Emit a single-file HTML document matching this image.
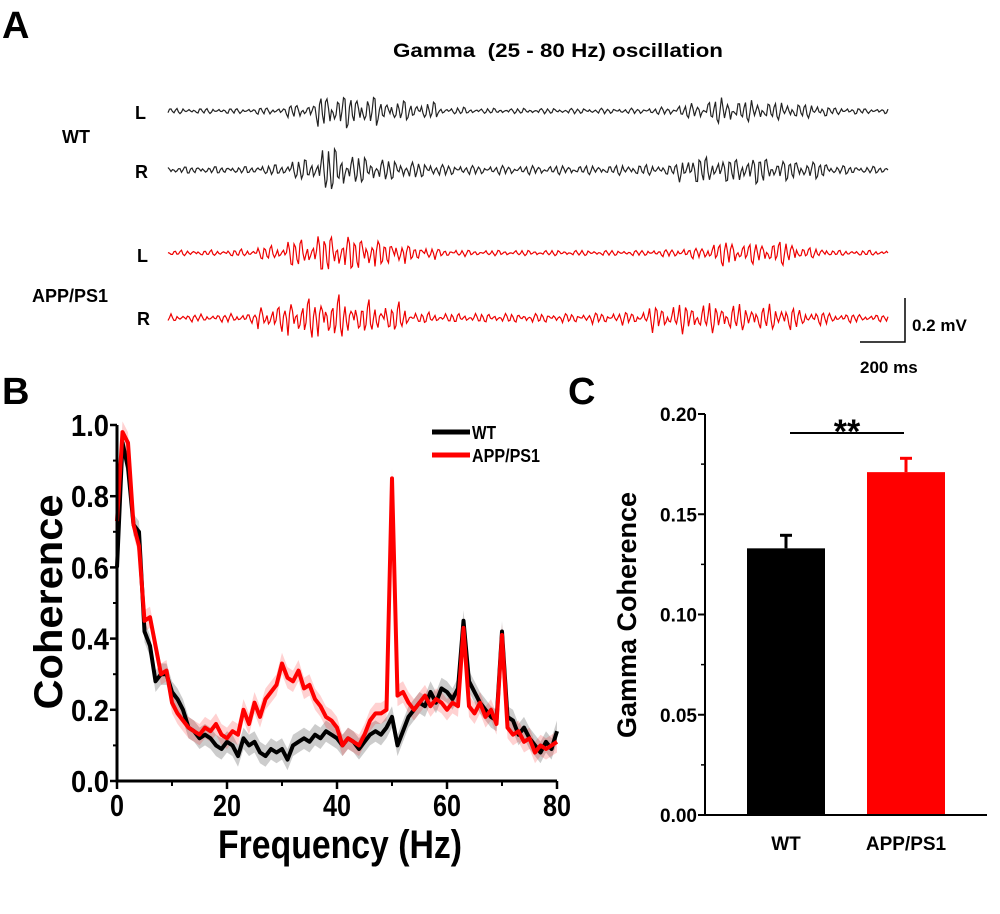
<!DOCTYPE html>
<html><head><meta charset="utf-8">
<style>
html,body{margin:0;padding:0;background:#fff;}
svg{display:block;font-family:"Liberation Sans",Arial,sans-serif;}
.b{font-weight:bold;}
</style></head>
<body>
<svg id="fig" width="1000" height="914" viewBox="0 0 1000 914" xmlns="http://www.w3.org/2000/svg">
<text x="2" y="38" font-size="38" class="b">A</text>
<text x="393" y="57" font-size="19" class="b" textLength="330" lengthAdjust="spacingAndGlyphs" xml:space="preserve">Gamma  (25 - 80 Hz) oscillation</text>
<text x="135" y="119" font-size="18" class="b">L</text>
<text x="62" y="143" font-size="18" class="b">WT</text>
<text x="135" y="178" font-size="18" class="b">R</text>
<text x="137" y="262" font-size="18" class="b">L</text>
<text x="32" y="302" font-size="18" class="b">APP/PS1</text>
<text x="137" y="325" font-size="18" class="b">R</text>
<g id="traces"></g>
<path d="M905,298 V342 H860" fill="none" stroke="#000" stroke-width="1.5"/>
<text x="912" y="331" font-size="17" class="b">0.2 mV</text>
<text x="860" y="373" font-size="17" class="b">200 ms</text>

<text x="2" y="404" font-size="38" class="b">B</text>
<g id="chartB"></g>
<text transform="translate(62,602) rotate(-90)" font-size="40" class="b" text-anchor="middle" textLength="215" lengthAdjust="spacingAndGlyphs">Coherence</text>
<text x="218" y="858" font-size="40" class="b" textLength="244" lengthAdjust="spacingAndGlyphs">Frequency (Hz)</text>
<line x1="432" y1="432" x2="470" y2="432" stroke="#000" stroke-width="5"/>
<text x="472" y="439" font-size="18" class="b" textLength="24" lengthAdjust="spacingAndGlyphs">WT</text>
<line x1="432" y1="455" x2="470" y2="455" stroke="#f00" stroke-width="5"/>
<text x="472" y="462" font-size="18" class="b" textLength="68" lengthAdjust="spacingAndGlyphs">APP/PS1</text>

<text x="568" y="404" font-size="38" class="b">C</text>
<g id="chartC"></g>
<text transform="translate(636,615) rotate(-90)" font-size="27" class="b" text-anchor="middle">Gamma Coherence</text>
</svg>
<script>
// ---------- Panel A trace envelopes (amplitude px per 30px segment) ----------
const wtLEnv  = [3,3,3,4,8,20,18,12,10,4,3,3,3,3,3,3,4,8,14,12,10,8,4,3];
const wtREnv  = [4,4,4,6,12,26,16,12,9,6,5,5,5,5,5,6,6,16,14,16,12,10,5,4];
const appLEnv = [3,3,4,8,16,22,20,14,8,4,3,3,3,3,3,3,4,6,14,12,14,6,3,3];
const appREnv = [4,4,5,14,22,24,18,16,6,5,5,5,5,5,6,7,14,16,16,14,14,8,5,4];

// ---------- Panel B data ----------
const freqs = [];
for (let f = 0; f <= 80; f++) freqs.push(f);
const wtCoh = [0.60,0.95,0.88,0.72,0.70,0.42,0.38,0.28,0.30,0.30,0.25,0.23,0.20,0.15,0.14,0.12,0.13,0.12,0.10,0.09,0.11,0.10,0.07,0.12,0.10,0.11,0.08,0.07,0.09,0.08,0.09,0.06,0.10,0.11,0.12,0.11,0.13,0.12,0.14,0.13,0.12,0.10,0.12,0.11,0.09,0.11,0.13,0.14,0.13,0.15,0.18,0.10,0.14,0.18,0.20,0.22,0.21,0.25,0.22,0.26,0.25,0.23,0.26,0.45,0.28,0.25,0.22,0.20,0.18,0.17,0.42,0.18,0.17,0.13,0.15,0.12,0.10,0.08,0.11,0.09,0.14];
const appCoh = [0.73,0.98,0.95,0.72,0.66,0.45,0.46,0.38,0.30,0.31,0.22,0.19,0.17,0.15,0.14,0.13,0.15,0.14,0.16,0.13,0.12,0.14,0.13,0.20,0.16,0.22,0.18,0.23,0.25,0.27,0.33,0.29,0.28,0.31,0.26,0.27,0.23,0.21,0.18,0.17,0.15,0.10,0.12,0.11,0.10,0.13,0.17,0.19,0.19,0.20,0.85,0.24,0.25,0.22,0.20,0.22,0.24,0.21,0.23,0.22,0.20,0.22,0.21,0.43,0.21,0.19,0.22,0.18,0.20,0.16,0.41,0.15,0.13,0.14,0.11,0.12,0.08,0.10,0.09,0.10,0.11];
const semB = 0.03;
const xTicksB = [0,20,40,60,80];
const yTicksB = [0.0,0.2,0.4,0.6,0.8,1.0];
const yTickLabelsB = ["0.0","0.2","0.4","0.6","0.8","1.0"];

// ---------- Panel C data ----------
const groups = ["WT","APP/PS1"];
const means = [0.133,0.171];
const sems = [0.0065,0.0069];
const yTicksC = [0,0.05,0.10,0.15,0.20];
const yTickLabelsC = ["0.00","0.05","0.10","0.15","0.20"];
const sigLabel = "**";

const NS = "http://www.w3.org/2000/svg";
function mk(tag, attrs, parent){const e=document.createElementNS(NS,tag);for(const k in attrs)e.setAttribute(k,attrs[k]);parent.appendChild(e);return e;}

// ---------- Panel A ----------
const traces = document.getElementById('traces');
function drawTrace(env, y0, color, seed, name){
  let d = "";
  for (let x = 168; x <= 888; x += 1.5) {
    const s = Math.min(env.length-1, Math.floor((x-168)/30));
    const amp = env[s];
    const t = x + seed;
    const v = Math.sin(t*1.05)*0.55 + Math.sin(t*0.83+seed)*0.3 + Math.sin(t*0.41+2*seed)*0.2 + Math.sin(t*1.9)*0.12;
    d += (d ? "L" : "M") + x.toFixed(1) + "," + (y0 + amp*v).toFixed(1);
  }
  const p = mk('path', {d:d, fill:'none', stroke:color, 'stroke-width':1.2}, traces);
  
  
}
drawTrace(wtLEnv, 111, '#222', 1.3, 'wt-left-trace');
drawTrace(wtREnv, 170, '#222', 4.7, 'wt-right-trace');
drawTrace(appLEnv, 253, '#e00', 2.9, 'app-left-trace');
drawTrace(appREnv, 318, '#e00', 7.1, 'app-right-trace');

// ---------- Panel B ----------
const gB = document.getElementById('chartB');
const xB = f => 117 + f*(557-117)/80;
const yB = v => 781 - v*(781-425);
function band(arr, fill, name){
  let d = "";
  freqs.forEach((f,i)=>{ d += (i?"L":"M") + xB(f).toFixed(1) + "," + yB(arr[i]+semB).toFixed(1); });
  for (let i=freqs.length-1;i>=0;i--) d += "L" + xB(freqs[i]).toFixed(1) + "," + yB(Math.max(0,arr[i]-semB)).toFixed(1);
  const p = mk('path',{d:d+"Z", fill:fill}, gB);
  
  
}
function line(arr, color, name){
  let d = "";
  freqs.forEach((f,i)=>{ d += (i?"L":"M") + xB(f).toFixed(1) + "," + yB(arr[i]).toFixed(1); });
  const p = mk('path',{d:d, fill:'none', stroke:color, 'stroke-width':4, 'stroke-linejoin':'round'}, gB);
  
  
}
band(wtCoh, 'rgba(0,0,0,0.2)', 'wt-sem-band');
band(appCoh, 'rgba(255,0,0,0.18)', 'app-sem-band');
line(wtCoh, '#000', 'wt-coherence-line');
line(appCoh, '#f00', 'app-coherence-line');
const axB = mk('path',{d:`M${xB(0)},${yB(1)} V${yB(0)} H${xB(80)}`, fill:'none', stroke:'#000', 'stroke-width':3}, gB);


yTicksB.forEach((v,i)=>{
  mk('line',{x1:xB(0)-7,x2:xB(0),y1:yB(v),y2:yB(v),stroke:'#000','stroke-width':2.5}, gB);
  if (i<yTicksB.length-1) mk('line',{x1:xB(0)-4,x2:xB(0),y1:yB(v+0.1),y2:yB(v+0.1),stroke:'#000','stroke-width':2}, gB);
  const t = mk('text',{x:xB(0)-46,y:yB(v)+11,'font-size':31,'class':'b',textLength:38,lengthAdjust:'spacingAndGlyphs'}, gB);
  t.textContent = yTickLabelsB[i];
  
  
});
xTicksB.forEach((f,i)=>{
  mk('line',{x1:xB(f),x2:xB(f),y1:yB(0),y2:yB(0)+8,stroke:'#000','stroke-width':2.5}, gB);
  if (i<xTicksB.length-1) mk('line',{x1:xB(f+10),x2:xB(f+10),y1:yB(0),y2:yB(0)+5,stroke:'#000','stroke-width':2}, gB);
  const w = String(f).length>1 ? 28 : 14;
  const t = mk('text',{x:xB(f)-w/2,y:yB(0)+35,'font-size':31,'class':'b',textLength:w,lengthAdjust:'spacingAndGlyphs'}, gB);
  t.textContent = f;
  
  
});

// ---------- Panel C ----------
const gC = document.getElementById('chartC');
const yC = v => 815 - v*(815-414)/0.20;
const barX = [747, 867], barW = 78;
const colors = ['#000','#f00'];
groups.forEach((g,i)=>{
  const top = yC(means[i]);
  const et = yC(means[i]+sems[i]);
  const cx = barX[i]+barW/2;
  const el = mk('line',{x1:cx,x2:cx,y1:top,y2:et,stroke:colors[i],'stroke-width':3}, gC);
  
  
  mk('line',{x1:cx-6,x2:cx+6,y1:et,y2:et,stroke:colors[i],'stroke-width':3}, gC);
  const r = mk('rect',{x:barX[i],y:top,width:barW,height:815-top,fill:colors[i]}, gC);
  
  
  const t = mk('text',{x:cx,y:850,'font-size':19,'text-anchor':'middle','class':'b'}, gC);
  t.textContent = g;
  
  
});
const axC = mk('path',{d:`M705,${yC(0.2)} V815 H987`, fill:'none', stroke:'#000', 'stroke-width':2}, gC);


yTicksC.forEach((v,i)=>{
  mk('line',{x1:698,x2:705,y1:yC(v),y2:yC(v),stroke:'#000','stroke-width':2}, gC);
  if (i<yTicksC.length-1) mk('line',{x1:701,x2:705,y1:yC(v+0.025),y2:yC(v+0.025),stroke:'#000','stroke-width':1.5}, gC);
  const t = mk('text',{x:697,y:yC(v)+7,'font-size':19,'text-anchor':'end','class':'b'}, gC);
  t.textContent = yTickLabelsC[i];
  
  
});
const sig = mk('line',{x1:790,x2:904,y1:433,y2:433,stroke:'#000','stroke-width':2}, gC);


const st = mk('text',{x:847,y:443,'font-size':34,'text-anchor':'middle','class':'b'}, gC);
st.textContent = sigLabel;


</script>
</body></html>
